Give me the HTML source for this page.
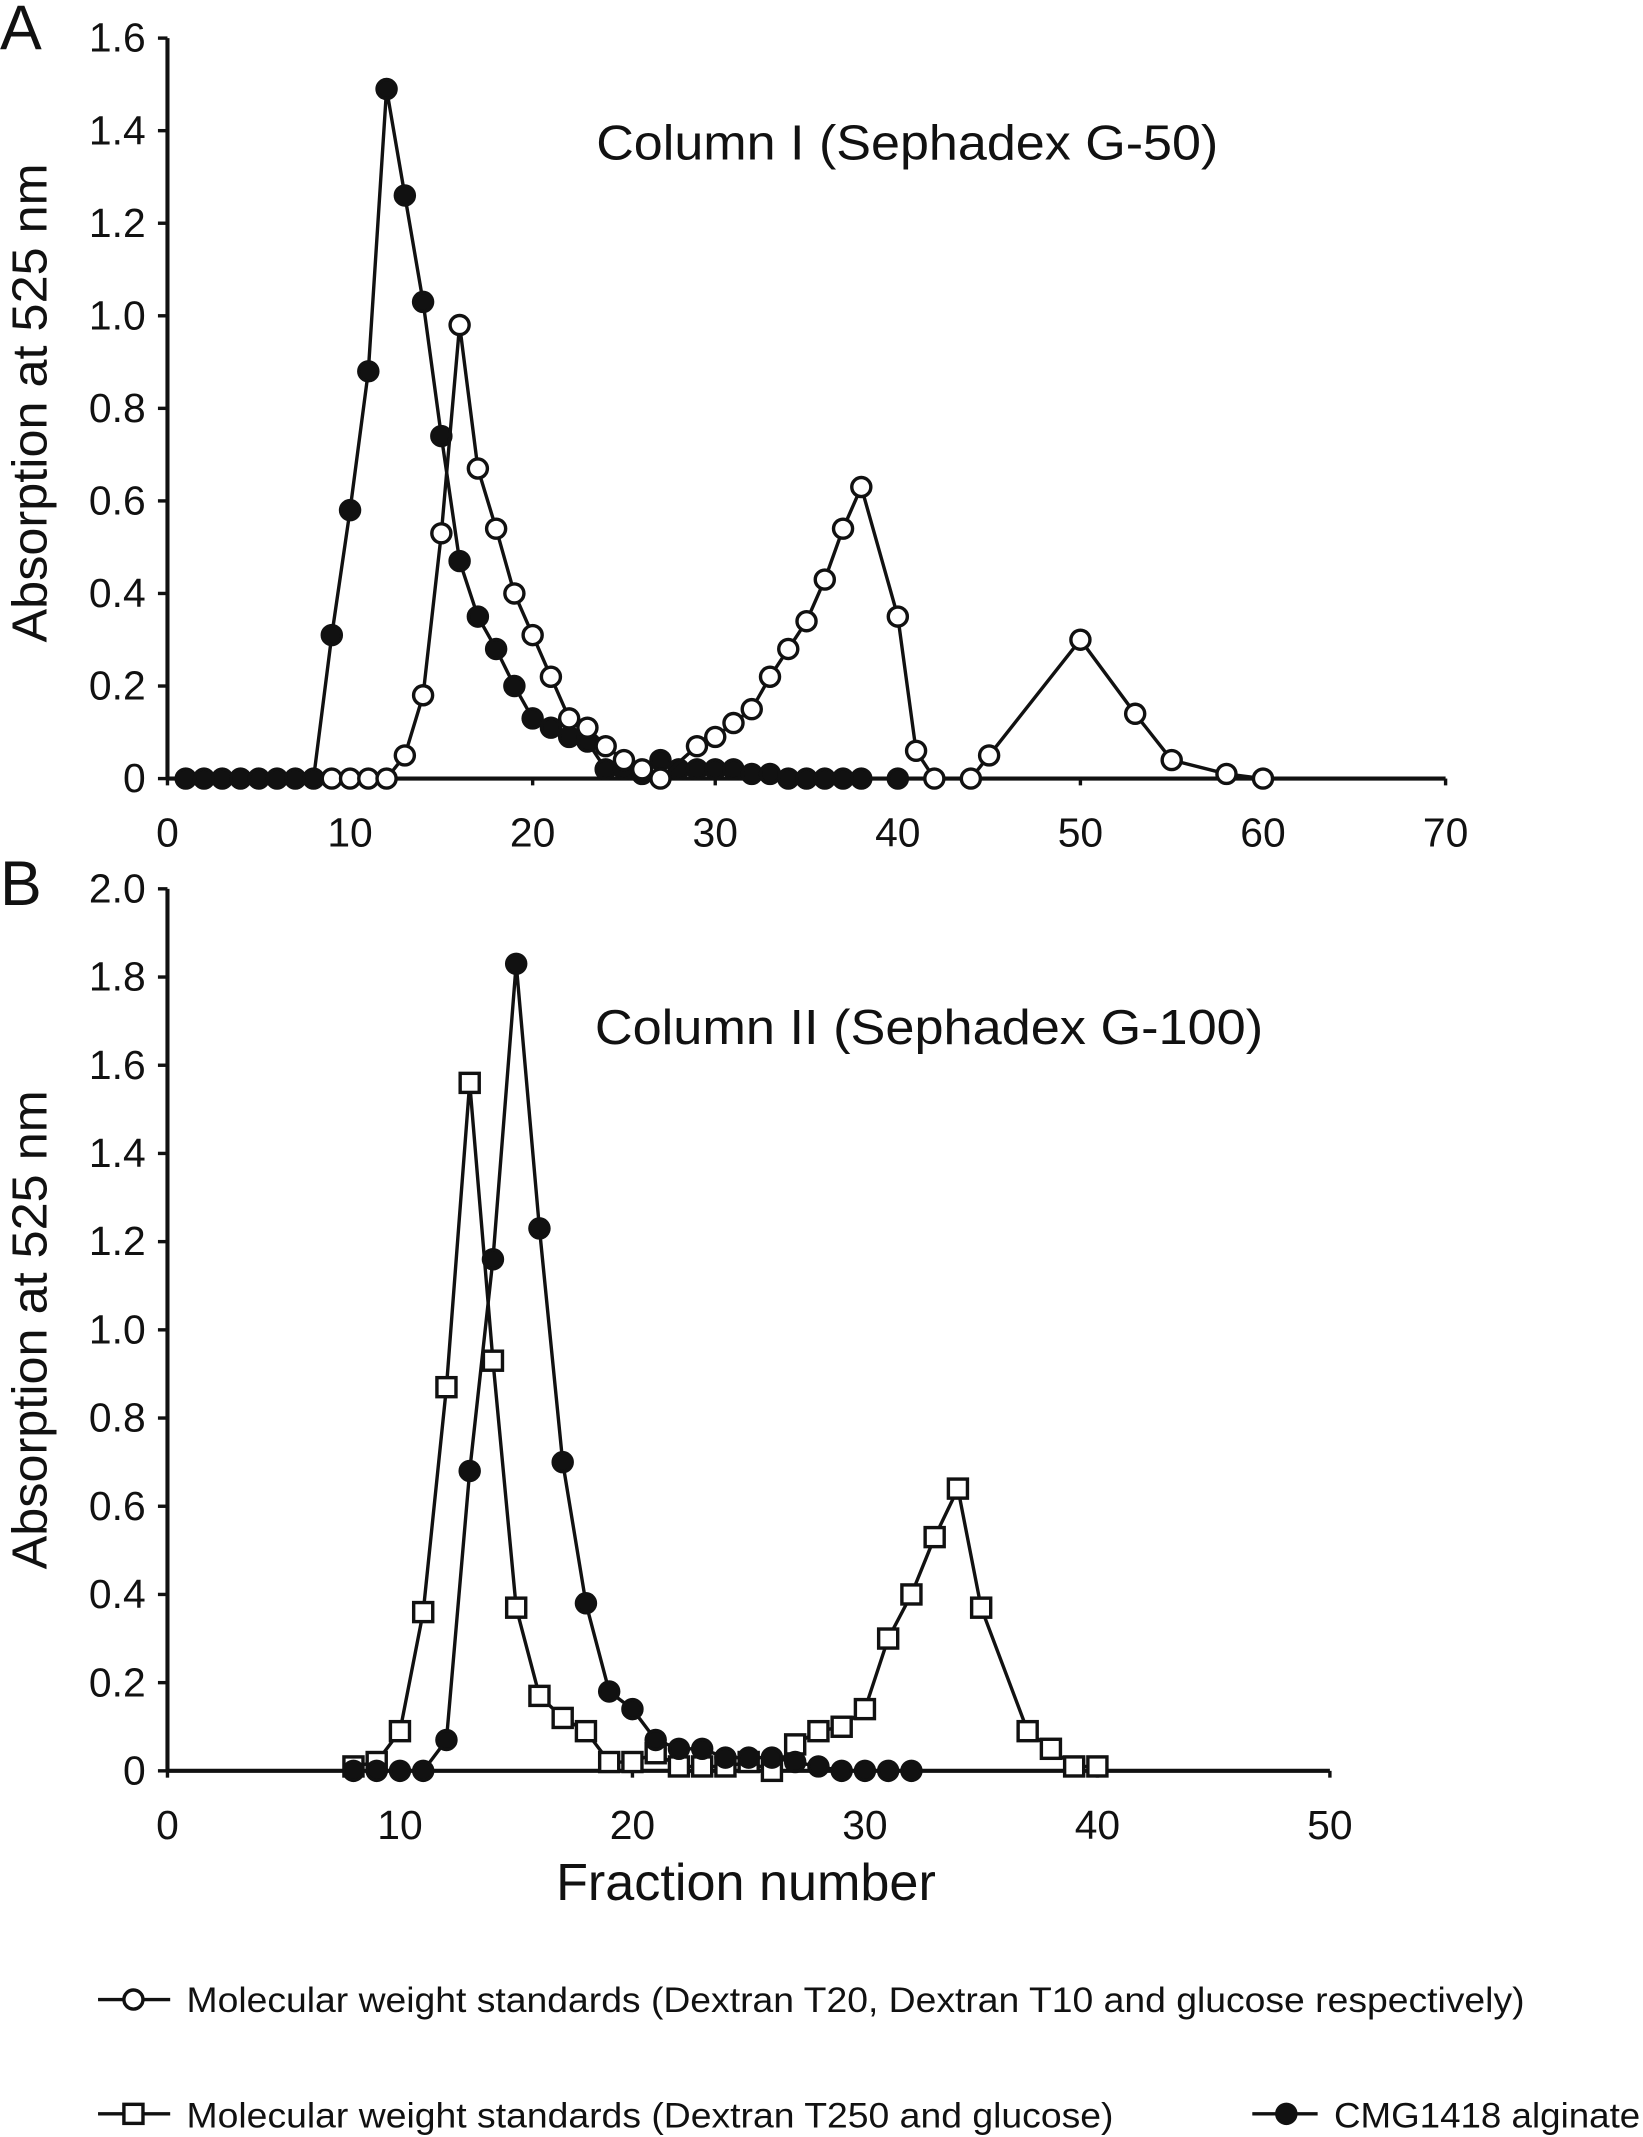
<!DOCTYPE html>
<html><head><meta charset="utf-8"><style>
html,body{margin:0;padding:0;background:#fff;}
svg{display:block;}
text{font-family:"Liberation Sans",sans-serif;fill:#111;}
</style></head><body>
<svg id="fig" width="1643" height="2137" viewBox="0 0 1207 1570" xmlns="http://www.w3.org/2000/svg">
<g id="root"></g>
</svg>
<script>
// Panel A data
const aClosedX = [1,2,3,4,5,6,7,8,9,10,11,12,13,14,15,16,17,18,19,20,21,22,23,24,25,26,27,28,29,30,31,32,33,34,35,36,37,38,40];
const aClosedY = [0,0,0,0,0,0,0,0,0.31,0.58,0.88,1.49,1.26,1.03,0.74,0.47,0.35,0.28,0.2,0.13,0.11,0.09,0.08,0.02,0.02,0.01,0.04,0.02,0.02,0.02,0.02,0.01,0.01,0,0,0,0,0,0];
const aOpenX = [9,10,11,12,13,14,15,16,17,18,19,20,21,22,23,24,25,26,27,29,30,31,32,33,34,35,36,37,38,40,41,42,44,45,50,53,55,58,60];
const aOpenY = [0,0,0,0,0.05,0.18,0.53,0.98,0.67,0.54,0.40,0.31,0.22,0.13,0.11,0.07,0.04,0.02,0,0.07,0.09,0.12,0.15,0.22,0.28,0.34,0.43,0.54,0.63,0.35,0.06,0,0,0.05,0.30,0.14,0.04,0.01,0];
const aXTicks = [0,10,20,30,40,50,60,70];
const aYTicks = [0,0.2,0.4,0.6,0.8,1.0,1.2,1.4,1.6];
// Panel B data
const bSquareX = [8,9,10,11,12,13,14,15,16,17,18,19,20,21,22,23,24,25,26,27,28,29,30,31,32,33,34,35,37,38,39,40];
const bSquareY = [0.01,0.02,0.09,0.36,0.87,1.56,0.93,0.37,0.17,0.12,0.09,0.02,0.02,0.04,0.01,0.01,0.01,0.02,0,0.06,0.09,0.10,0.14,0.30,0.40,0.53,0.64,0.37,0.09,0.05,0.01,0.01];
const bClosedX = [8,9,10,11,12,13,14,15,16,17,18,19,20,21,22,23,24,25,26,27,28,29,30,31,32];
const bClosedY = [0,0,0,0,0.07,0.68,1.16,1.83,1.23,0.70,0.38,0.18,0.14,0.07,0.05,0.05,0.03,0.03,0.03,0.02,0.01,0,0,0,0];
const bXTicks = [0,10,20,30,40,50];
const bYTicks = [0,0.2,0.4,0.6,0.8,1.0,1.2,1.4,1.6,1.8,2.0];

const NS = "http://www.w3.org/2000/svg";
const root = document.getElementById('root');
function mk(tag, attrs, parent){ const e=document.createElementNS(NS,tag); for(const k in attrs) e.setAttribute(k,attrs[k]); (parent||root).appendChild(e); return e; }

function panel(cfg){
  const g = mk('g',{});
  
  
  const sx = v => cfg.x0 + (v - 0) / cfg.xMax * (cfg.x1 - cfg.x0);
  const sy = v => cfg.y0 - v / cfg.yMax * (cfg.y0 - cfg.y1);
  const yax = mk('line',{x1:cfg.x0,y1:cfg.y1,x2:cfg.x0,y2:cfg.y0,stroke:'#111','stroke-width':3},g);
  
  
  const xax = mk('line',{x1:cfg.x0,y1:cfg.y0,x2:cfg.x1,y2:cfg.y0,stroke:'#111','stroke-width':3},g);
  
  
  cfg.yTicks.forEach(t=>{
    mk('line',{x1:cfg.x0-7,x2:cfg.x0,y1:sy(t),y2:sy(t),stroke:'#111','stroke-width':2.5},g);
    const tx = mk('text',{x:cfg.x0-16,y:sy(t)+10,'text-anchor':'end','font-size':30},g);
    tx.textContent = t===0 ? '0' : t.toFixed(1);
    
    
  });
  cfg.xTicks.forEach(t=>{
    mk('line',{x1:sx(t),x2:sx(t),y1:cfg.y0,y2:cfg.y0+5,stroke:'#111','stroke-width':2.5},g);
    const tx = mk('text',{x:sx(t),y:cfg.y0+50,'text-anchor':'middle','font-size':30},g);
    tx.textContent = String(t);
    
    
  });
  cfg.series.forEach(s=>{
    const sg = mk('g',{},g);
    
    
    const pts = s.xs.map((x,i)=>sx(x)+','+sy(s.ys[i])).join(' ');
    mk('polyline',{points:pts,fill:'none',stroke:'#111','stroke-width':2.5},sg);
    s.xs.forEach((x,i)=>{
      let m;
      if(s.shape==='square'){
        m = mk('rect',{x:sx(x)-7,y:sy(s.ys[i])-7,width:14,height:14,fill:'#fff',stroke:'#111','stroke-width':2.5},sg);
      } else {
        m = mk('circle',{cx:sx(x),cy:sy(s.ys[i]),r:7,fill:s.shape==='filled'?'#111':'#fff',stroke:'#111','stroke-width':2.5},sg);
      }
      
      
    });
  });
}

panel({name:'panel-a-chart',x0:123,x1:1062,y0:572,y1:28,xMax:70,yMax:1.6,xTicks:aXTicks,yTicks:aYTicks,
  series:[{name:'series-cmg1418-a',xs:aClosedX,ys:aClosedY,shape:'filled'},{name:'series-standards-a',xs:aOpenX,ys:aOpenY,shape:'open'}]});
panel({name:'panel-b-chart',x0:123,x1:977,y0:1301,y1:653,xMax:50,yMax:2.0,xTicks:bXTicks,yTicks:bYTicks,
  series:[{name:'series-standards-b',xs:bSquareX,ys:bSquareY,shape:'square'},{name:'series-cmg1418-b',xs:bClosedX,ys:bClosedY,shape:'filled'}]});
</script>
<script>
(function(){
  const NS="http://www.w3.org/2000/svg", svg=document.getElementById('fig');
  function t(name,attrs,txt){const e=document.createElementNS(NS,'text');for(const k in attrs)e.setAttribute(k,attrs[k]);e.textContent=txt;
    
    
    svg.appendChild(e);return e;}
  function el(tag,attrs){const e=document.createElementNS(NS,tag);for(const k in attrs)e.setAttribute(k,attrs[k]);svg.appendChild(e);return e;}
  t('panel-a-label',{x:0,y:36,'font-size':46},'A');
  t('panel-b-label',{x:0,y:665,'font-size':46},'B');
  t('panel-a-title',{x:438,y:117,'font-size':36,textLength:457,lengthAdjust:'spacingAndGlyphs'},'Column I (Sephadex G-50)');
  t('panel-b-title',{x:437,y:767,'font-size':36,textLength:491,lengthAdjust:'spacingAndGlyphs'},'Column II (Sephadex G-100)');
  t('y-axis-title-a',{x:0,y:0,'font-size':36,'text-anchor':'middle',textLength:352,lengthAdjust:'spacingAndGlyphs',transform:'translate(34,296) rotate(-90)'},'Absorption at 525 nm');
  t('y-axis-title-b',{x:0,y:0,'font-size':36,'text-anchor':'middle',textLength:352,lengthAdjust:'spacingAndGlyphs',transform:'translate(34,977) rotate(-90)'},'Absorption at 525 nm');
  t('x-axis-title',{x:548,y:1396,'font-size':38,'text-anchor':'middle',textLength:279,lengthAdjust:'spacingAndGlyphs'},'Fraction number');
  // legend
  let g;
  el('line',{x1:72,x2:125,y1:1469,y2:1469,stroke:'#111','stroke-width':2.5});
  g=el('circle',{cx:98,cy:1469,r:7,fill:'#fff',stroke:'#111','stroke-width':2.5});
  
  
  t('legend-entry-standards-a',{x:137,y:1478,'font-size':26,textLength:983,lengthAdjust:'spacingAndGlyphs'},'Molecular weight standards (Dextran T20, Dextran T10 and glucose respectively)');
  el('line',{x1:72,x2:125,y1:1553,y2:1553,stroke:'#111','stroke-width':2.5});
  g=el('rect',{x:91,y:1546,width:14,height:14,fill:'#fff',stroke:'#111','stroke-width':2.5});
  
  
  t('legend-entry-standards-b',{x:137,y:1563,'font-size':26,textLength:681,lengthAdjust:'spacingAndGlyphs'},'Molecular weight standards (Dextran T250 and glucose)');
  el('line',{x1:920,x2:968,y1:1553,y2:1553,stroke:'#111','stroke-width':2.5});
  g=el('circle',{cx:945,cy:1553,r:7,fill:'#111',stroke:'#111','stroke-width':2.5});
  
  
  t('legend-entry-cmg1418',{x:980,y:1563,'font-size':26,textLength:225,lengthAdjust:'spacingAndGlyphs'},'CMG1418 alginate');
})();
</script>
</body></html>
